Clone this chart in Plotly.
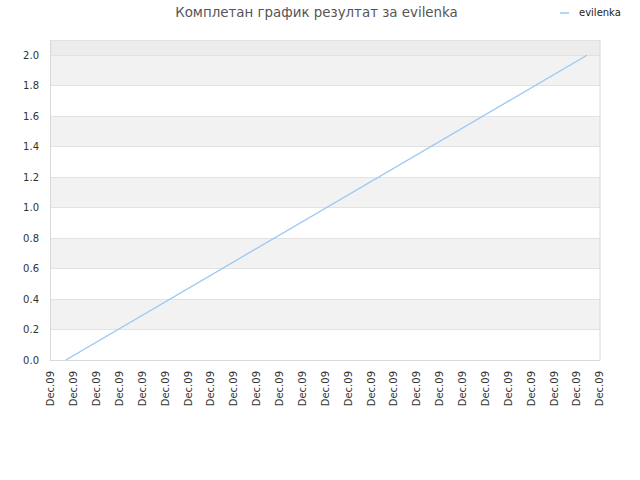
import plotly.graph_objects as go

series_name = "evilenka"
x_vals = [0.65, 23.43]
y_vals = [0.0, 2.0]
tick_positions = list(range(25))
tick_labels = ["Dec.09"] * 25
y_ticks = [0, 0.2, 0.4, 0.6, 0.8, 1.0, 1.2, 1.4, 1.6, 1.8, 2.0]
band_starts = [0.2, 0.6, 1.0, 1.4, 1.8]

line_color = "#99c8f5"

fig = go.Figure()
fig.add_trace(go.Scatter(x=x_vals, y=y_vals, mode="lines", name=series_name,
                         line=dict(color=line_color, width=1.3), showlegend=False))

shapes = []
for lo in band_starts:
    shapes.append(dict(type="rect", xref="paper", yref="y", x0=0, x1=1, y0=lo, y1=lo + 0.2,
                       fillcolor="#f2f2f2", line=dict(width=0), layer="below"))
shapes.append(dict(type="rect", xref="paper", yref="y", x0=0, x1=1, y0=2.0, y1=2.1,
                   fillcolor="#ececec", line=dict(width=0), layer="below"))
shapes.append(dict(type="line", xref="paper", yref="y", x0=1, x1=1, y0=0, y1=2.1,
                   line=dict(color="#d8d8d8", width=1)))
shapes.append(dict(type="line", xref="paper", yref="y", x0=0, x1=1, y0=2.1, y1=2.1,
                   line=dict(color="#d8d8d8", width=1)))
# legend marker
shapes.append(dict(type="line", xref="paper", yref="paper", x0=(560 - 51) / 549, x1=(569 - 51) / 549,
                   y0=(360 - 13) / 320, y1=(360 - 13) / 320, line=dict(color=line_color, width=1.5)))

fig.update_layout(
    width=640, height=480,
    margin=dict(l=51, r=40, t=40, b=120, autoexpand=False),
    paper_bgcolor="white", plot_bgcolor="white",
    font=dict(family="DejaVu Sans", size=10, color="#333333"),
    title=dict(text="Комплетан график резултат за evilenka", x=316.5 / 640, xanchor="center",
               yref="container", y=1 - 12 / 480, yanchor="middle",
               font=dict(size=13.4, color="#555555")),
    showlegend=False,
    shapes=shapes,
    annotations=[dict(text=series_name, xref="paper", yref="paper",
                      x=(577 - 51) / 549, y=(360 - 13) / 320, xanchor="left", yanchor="middle",
                      showarrow=False, font=dict(size=10, color="#222222"))],
    xaxis=dict(range=[0, 24], tickmode="array", tickvals=tick_positions, ticktext=tick_labels,
               tickangle=-90, showgrid=False, zeroline=False, showline=True, automargin=False,
               linecolor="#d8d8d8", linewidth=1, ticks="", ticklabelstandoff=6,
               tickfont=dict(size=10, color="#333333")),
    yaxis=dict(range=[0, 2.1], tickmode="array", tickvals=y_ticks, automargin=False,
               tickformat=".1f", showgrid=True, gridcolor="#e2e2e2", zeroline=False,
               showline=True, linecolor="#d8d8d8", linewidth=1, ticks="", ticklabelstandoff=9,
               tickfont=dict(size=10, color="#333333")),
)

fig.write_html("out.html", config={"displayModeBar": False},
               post_script="document.body.style.margin='0';")
